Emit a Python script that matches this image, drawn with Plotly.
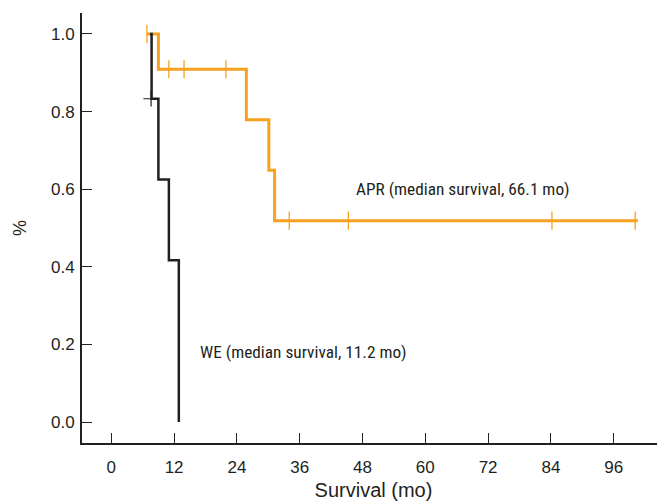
import plotly.graph_objects as go

# Kaplan-Meier step data (months, survival proportion)
apr_step_time = [6.8, 9.0, 25.8, 30.1, 31.2, 100.6]
apr_step_surv = [1.0, 0.909, 0.779, 0.649, 0.519, 0.519]
apr_cens_time = [6.8, 11.0, 13.9, 21.9, 34.0, 45.3, 84.2, 100.1]
apr_cens_surv = [1.0, 0.909, 0.909, 0.909, 0.519, 0.519, 0.519, 0.519]

we_step_time = [7.4, 7.7, 9.0, 11.0, 12.9]
we_step_surv = [1.0, 0.833, 0.625, 0.417, 0.0]
we_cens_time = [7.6]
we_cens_surv = [0.833]

x_ticks = [0, 12, 24, 36, 48, 60, 72, 84, 96]
y_ticks = [0.0, 0.2, 0.4, 0.6, 0.8, 1.0]
y_tick_labels = ["0.0", "0.2", "0.4", "0.6", "0.8", "1.0"]

orange = "#F8A11E"
black = "#231F20"
narrow = "Liberation Sans Narrow, Roboto Condensed, Arial Narrow, Liberation Sans, sans-serif"
regular = "Liberation Sans, Arial, Helvetica, sans-serif"

fig = go.Figure()
fig.add_trace(go.Scatter(x=apr_step_time, y=apr_step_surv, mode="lines",
                         line=dict(shape="hv", color=orange, width=3), hoverinfo="skip"))
fig.add_trace(go.Scatter(x=apr_cens_time, y=apr_cens_surv, mode="markers",
                         marker=dict(symbol="line-ns-open", size=13, color=orange,
                                     line=dict(color=orange, width=1.3))))
fig.add_trace(go.Scatter(x=we_step_time, y=we_step_surv, mode="lines",
                         line=dict(shape="hv", color=black, width=2.5), hoverinfo="skip"))
fig.add_trace(go.Scatter(x=we_cens_time, y=we_cens_surv, mode="markers",
                         marker=dict(symbol="cross-thin-open", size=11, color=black,
                                     line=dict(color=black, width=1.2))))

fig.add_annotation(x=67.2, y=0.60, text="APR (median survival, 66.1 mo)", showarrow=False,
                   xanchor="center", yanchor="middle", font=dict(size=17.3, color=black, family=narrow))
fig.add_annotation(x=16.6, y=0.18, text="WE (median survival, 11.2 mo)", showarrow=False,
                   xanchor="left", yanchor="middle", font=dict(size=17.3, color=black, family=narrow))

fig.update_layout(
    width=657, height=496,
    margin=dict(l=74, r=0, t=5, b=61),
    paper_bgcolor="white", plot_bgcolor="white",
    showlegend=False,
    font=dict(family=regular, size=17, color=black),
)
fig.update_xaxes(range=[-5.6, 105.8], tickvals=x_ticks, ticks="inside", ticklen=10, tickwidth=1,
                 tickcolor=black, showline=True, linecolor=black, linewidth=2,
                 showgrid=False, zeroline=False, ticklabelstandoff=8, automargin=False,
                 tickfont=dict(size=17, family=regular),
                 title=dict(text="Survival (mo)", standoff=7, font=dict(size=20, family=regular)))
fig.update_yaxes(range=[-0.054, 1.054], tickvals=y_ticks, ticktext=y_tick_labels, ticks="inside",
                 ticklen=10, tickwidth=1, tickcolor=black, showline=True, linecolor=black,
                 linewidth=2, showgrid=False, zeroline=False, ticklabelstandoff=2, automargin=False,
                 tickfont=dict(size=17, family=regular),
                 title=dict(text="%", standoff=20, font=dict(size=18, family=regular)))

fig.write_html("out.html")
